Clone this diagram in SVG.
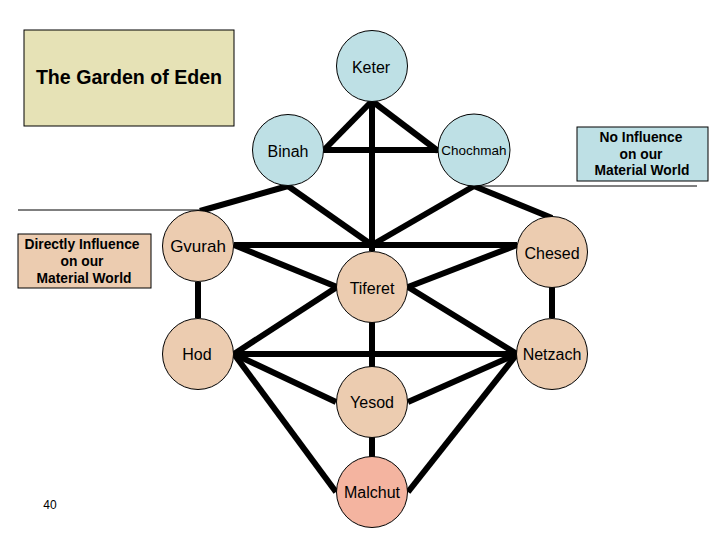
<svg xmlns="http://www.w3.org/2000/svg" width="720" height="540" viewBox="0 0 720 540">
<style>
.bg{fill:#ffffff}
.e{stroke:#000;stroke-width:6;stroke-linecap:butt;fill:none}
.thin{stroke:#000;stroke-width:1;fill:none}
.blue{fill:#bee0e5;stroke:#000;stroke-width:1}
.peach{fill:#ecccb0;stroke:#000;stroke-width:1}
.pink{fill:#f4b4a0;stroke:#000;stroke-width:1}
.t{font-family:"Liberation Sans",Arial,sans-serif;font-size:16px;fill:#000;text-anchor:middle;dominant-baseline:central}
.b{font-family:"Liberation Sans",Arial,sans-serif;font-weight:bold;font-size:13.8px;fill:#000;text-anchor:middle}
</style>
<rect class="bg" x="0" y="0" width="720" height="540"/>
<g id="garden">
<rect x="24" y="30" width="210" height="96" fill="#e6e2b6" stroke="#000" stroke-width="1"/>
<text x="129" y="84" font-family="Liberation Sans, Arial, sans-serif" font-weight="bold" font-size="19.6" text-anchor="middle">The Garden of Eden</text>
</g>
<g id="noinfluence">
<rect x="577" y="127" width="131" height="54" class="blue"/>
<text class="b" x="641" y="142">No Influence</text>
<text class="b" x="641" y="159">on our</text>
<text class="b" x="642" y="175">Material World</text>
</g>
<g id="directly">
<rect x="18" y="234" width="133" height="54" class="peach"/>
<text class="b" x="82" y="249">Directly Influence</text>
<text class="b" x="82" y="266">on our</text>
<text class="b" x="84" y="283">Material World</text>
</g>
<g id="dividers">
<line class="thin" x1="474" y1="186" x2="697" y2="186"/>
<line class="thin" x1="18" y1="210" x2="200" y2="210"/>
</g>
<g id="connectors">
<line class="e" x1="372" y1="101" x2="323" y2="151"/>
<line class="e" x1="372" y1="101" x2="438" y2="151"/>
<line class="e" x1="372" y1="101" x2="372" y2="251"/>
<line class="e" x1="323" y1="150" x2="438" y2="150"/>
<line class="e" x1="288" y1="186" x2="200" y2="211"/>
<line class="e" x1="288" y1="186" x2="372" y2="245"/>
<line class="e" x1="474" y1="186" x2="552" y2="218"/>
<line class="e" x1="474" y1="186" x2="372" y2="245"/>
<line class="e" x1="234" y1="245" x2="517" y2="245"/>
<line class="e" x1="234" y1="245" x2="337" y2="287"/>
<line class="e" x1="517" y1="245" x2="408" y2="287"/>
<line class="e" x1="198" y1="282" x2="198" y2="318"/>
<line class="e" x1="552" y1="287" x2="552" y2="318"/>
<line class="e" x1="234" y1="354" x2="337" y2="287"/>
<line class="e" x1="517" y1="354" x2="408" y2="287"/>
<line class="e" x1="234" y1="354" x2="517" y2="354"/>
<line class="e" x1="234" y1="354" x2="336" y2="402"/>
<line class="e" x1="517" y1="354" x2="408" y2="402"/>
<line class="e" x1="234" y1="354" x2="336" y2="492"/>
<line class="e" x1="517" y1="354" x2="408" y2="492"/>
<line class="e" x1="372" y1="322" x2="372" y2="367"/>
<line class="e" x1="372" y1="437" x2="372" y2="457"/>
</g>
<g id="keter"><circle class="blue" cx="372" cy="66" r="35.5"/><text class="t" x="371" y="67">Keter</text></g>
<g id="binah"><circle class="blue" cx="288" cy="150" r="35.5"/><text class="t" x="288" y="151">Binah</text></g>
<g id="chochmah"><circle class="blue" cx="474" cy="150" r="36"/><text class="t" x="474" y="150" style="font-size:13.5px">Chochmah</text></g>
<g id="gvurah"><circle class="peach" cx="198" cy="246" r="35.5"/><text class="t" x="198" y="246" style="font-size:17px">Gvurah</text></g>
<g id="chesed"><circle class="peach" cx="552" cy="252" r="35.5"/><text class="t" x="552" y="253">Chesed</text></g>
<g id="tiferet"><circle class="peach" cx="372" cy="287" r="35.5"/><text class="t" x="372" y="288">Tiferet</text></g>
<g id="hod"><circle class="peach" cx="198" cy="354" r="35.5"/><text class="t" x="197" y="354">Hod</text></g>
<g id="netzach"><circle class="peach" cx="552" cy="354" r="35.5"/><text class="t" x="552" y="354">Netzach</text></g>
<g id="yesod"><circle class="peach" cx="372" cy="402" r="35.5"/><text class="t" x="372" y="402">Yesod</text></g>
<g id="malchut"><circle class="pink" cx="372" cy="492" r="35.5"/><text class="t" x="372" y="492">Malchut</text></g>
<text x="50" y="509" font-family="Liberation Sans, Arial, sans-serif" font-size="12" text-anchor="middle">40</text>
</svg>
